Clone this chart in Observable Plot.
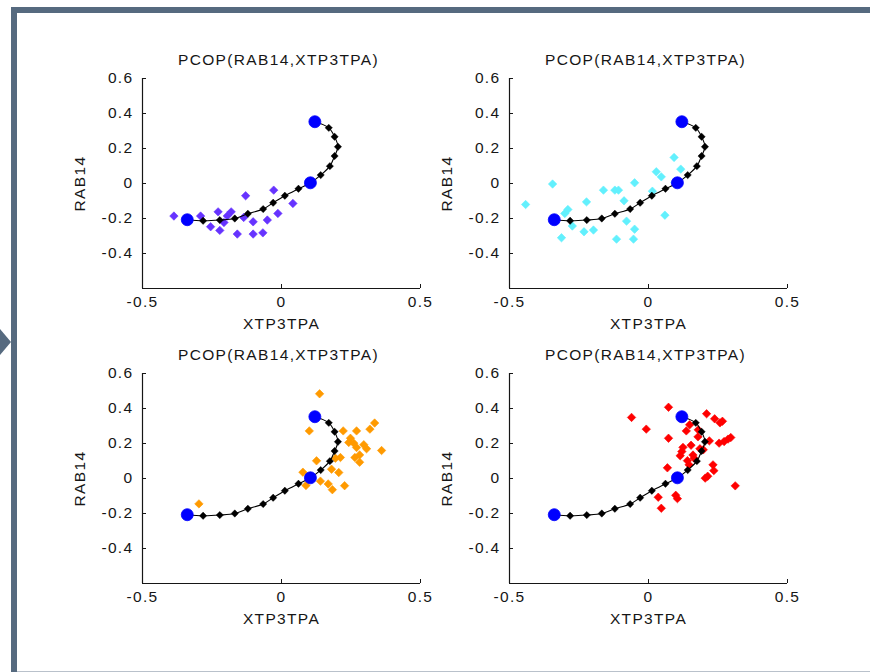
<!DOCTYPE html>
<html><head><meta charset="utf-8">
<script src="https://cdn.jsdelivr.net/npm/d3@7"></script>
<script src="https://cdn.jsdelivr.net/npm/@observablehq/plot@0.6"></script>
<style>
html,body{margin:0;padding:0;background:#fff;}
#wrap{position:relative;width:870px;height:672px;overflow:hidden;background:#fff;}
.bar-top{position:absolute;left:11px;top:7px;width:859px;height:6px;background:#566a7f;}
.bar-left{position:absolute;left:11px;top:7px;width:6px;height:665px;background:#566a7f;}
.bar-bottom{position:absolute;left:17px;top:671px;width:853px;height:1px;background:#b9c1cb;}
.tri{position:absolute;left:0;top:329px;width:0;height:0;border-top:13px solid transparent;border-bottom:13px solid transparent;border-left:11px solid #566a7f;}
.panel{position:absolute;}
.panel svg{overflow:visible;}
</style></head>
<body>
<div id="wrap">
  <div class="bar-top"></div><div class="bar-left"></div><div class="bar-bottom"></div><div class="tri"></div>
</div>
<script>
// ---- data ----
const titleText = "PCOP(RAB14,XTP3TPA)";
const xLabel = "XTP3TPA";
const yLabel = "RAB14";
const xTicks = [-0.5, 0, 0.5];
const yTicks = [-0.4, -0.2, 0, 0.2, 0.4, 0.6];

// principal curve (same in every panel)
const pathX = [-0.339, -0.282, -0.222, -0.168, -0.121, -0.066, -0.030, 0.012, 0.061, 0.104, 0.141, 0.174, 0.191, 0.203, 0.191, 0.170, 0.120];
const pathY = [-0.207, -0.213, -0.209, -0.200, -0.173, -0.146, -0.110, -0.070, -0.030, 0.004, 0.048, 0.099, 0.157, 0.210, 0.267, 0.318, 0.353];
// blue anchor points
const blueX = [-0.339, 0.104, 0.120];
const blueY = [-0.207, 0.004, 0.353];

// sample points per panel
const purplePts = [[-0.387,-0.186],[-0.291,-0.186],[-0.255,-0.247],[-0.228,-0.162],[-0.222,-0.268],[-0.207,-0.223],[-0.195,-0.185],[-0.181,-0.162],[-0.159,-0.289],[-0.129,-0.070],[-0.136,-0.194],[-0.102,-0.219],[-0.102,-0.289],[-0.067,-0.282],[-0.051,-0.209],[-0.028,-0.038],[-0.013,-0.171],[0.041,-0.114]];
const cyanPts = [[-0.442,-0.120],[-0.345,-0.003],[-0.313,-0.310],[-0.301,-0.171],[-0.290,-0.149],[-0.274,-0.243],[-0.232,-0.276],[-0.223,-0.105],[-0.198,-0.266],[-0.162,-0.038],[-0.121,-0.038],[-0.108,-0.038],[-0.115,-0.318],[-0.088,-0.099],[-0.079,-0.215],[-0.050,0.004],[-0.050,-0.261],[-0.054,-0.318],[0.014,-0.044],[0.028,0.067],[0.046,0.038],[0.059,-0.181],[0.092,0.149],[0.116,0.082],[0.095,0.005]];
const orangePts = [[0.137,0.484],[0.100,0.272],[0.222,0.272],[0.270,0.272],[0.318,0.282],[0.335,0.317],[0.248,0.230],[0.242,0.206],[0.260,0.202],[0.270,0.177],[0.296,0.193],[0.306,0.170],[0.360,0.160],[0.264,0.120],[0.281,0.135],[0.281,0.093],[0.212,0.120],[0.194,0.116],[0.126,0.101],[0.180,0.053],[0.206,0.034],[0.077,0.036],[0.088,-0.040],[0.140,-0.015],[0.168,-0.031],[0.183,-0.064],[0.227,-0.041],[-0.297,-0.145]];
const redPts = [[-0.061,0.349],[-0.008,0.282],[0.072,0.407],[0.072,0.230],[0.068,0.061],[0.148,0.307],[0.136,0.272],[0.209,0.370],[0.238,0.341],[0.257,0.318],[0.266,0.327],[0.179,0.278],[0.178,0.238],[0.219,0.215],[0.254,0.202],[0.272,0.211],[0.286,0.225],[0.296,0.234],[0.153,0.190],[0.124,0.178],[0.120,0.154],[0.114,0.130],[0.160,0.134],[0.164,0.116],[0.185,0.170],[0.140,0.102],[0.146,0.078],[0.232,0.078],[0.235,0.045],[0.204,0.002],[0.213,0.013],[0.312,-0.042],[0.035,-0.107],[0.046,-0.170],[0.098,-0.096],[0.104,-0.115],[0.197,0.164]];

const panelColors = ["#6633ff", "#62f0fd", "#ff9a00", "#ff0000"];
const panelPoints = [purplePts, cyanPts, orangePts, redPts];

// ---- drawing ----
const path = pathX.map((x, i) => ({x, y: pathY[i]}));
const inner = path.slice(1, -1);
const blue = blueX.map((x, i) => ({x, y: blueY[i]}));
const fmt = d => String(d);
const ink = "#161616";

const layout = [
  {left: 20, top: 14, width: 415, mL: 122, mR: 15},
  {left: 440, top: 14, width: 430, mL: 69, mR: 83},
  {left: 20, top: 309, width: 415, mL: 122, mR: 15},
  {left: 440, top: 309, width: 430, mL: 69, mR: 83}
];

const wrap = document.getElementById("wrap");
layout.forEach((L, k) => {
  const color = panelColors[k];
  const chart = Plot.plot({
    width: L.width, height: 322,
    marginLeft: L.mL, marginRight: L.mR, marginTop: 64, marginBottom: 48,
    style: {background: "transparent", fontFamily: "'Liberation Sans', Arial, sans-serif", fontSize: "15.5px", color: ink, overflow: "visible", letterSpacing: "1.35px"},
    x: {domain: [-0.5, 0.5]},
    y: {domain: [-0.6, 0.6]},
    marks: [
      Plot.axisX({ticks: xTicks, tickFormat: fmt, tickSize: -4, tickPadding: 11, stroke: ink, fill: ink,
        label: xLabel, labelAnchor: "center", labelArrow: "none", labelOffset: 40}),
      Plot.axisY({ticks: yTicks, tickFormat: fmt, tickSize: -4, tickPadding: 13, stroke: ink, fill: ink,
        label: yLabel, labelAnchor: "center", labelArrow: "none", labelOffset: 69}),
      Plot.ruleX([-0.5], {stroke: ink, strokeWidth: 1.2}),
      Plot.ruleY([-0.6], {stroke: ink, strokeWidth: 1.2}),
      Plot.dot(panelPoints[k], {x: d => d[0], y: d => d[1], symbol: "diamond2", r: 3.8, fill: color, stroke: color, strokeWidth: 0.6}),
      Plot.line(path, {x: "x", y: "y", curve: "catmull-rom", stroke: "#000", strokeWidth: 1.1}),
      Plot.dot(inner, {x: "x", y: "y", symbol: "diamond2", r: 3.3, fill: "#000", stroke: "#000", strokeWidth: 0.4}),
      Plot.dot(blue, {x: "x", y: "y", r: 6, fill: "#0000ff", stroke: "#0000ff", strokeWidth: 0.8}),
      Plot.text([titleText], {text: d => d, frameAnchor: "top", lineAnchor: "bottom", dy: -14, dx: -3, fill: ink})
    ]
  });
  const div = document.createElement("div");
  div.className = "panel";
  div.style.left = L.left + "px";
  div.style.top = L.top + "px";
  div.appendChild(chart);
  wrap.appendChild(div);
});
</script>
</body></html>
